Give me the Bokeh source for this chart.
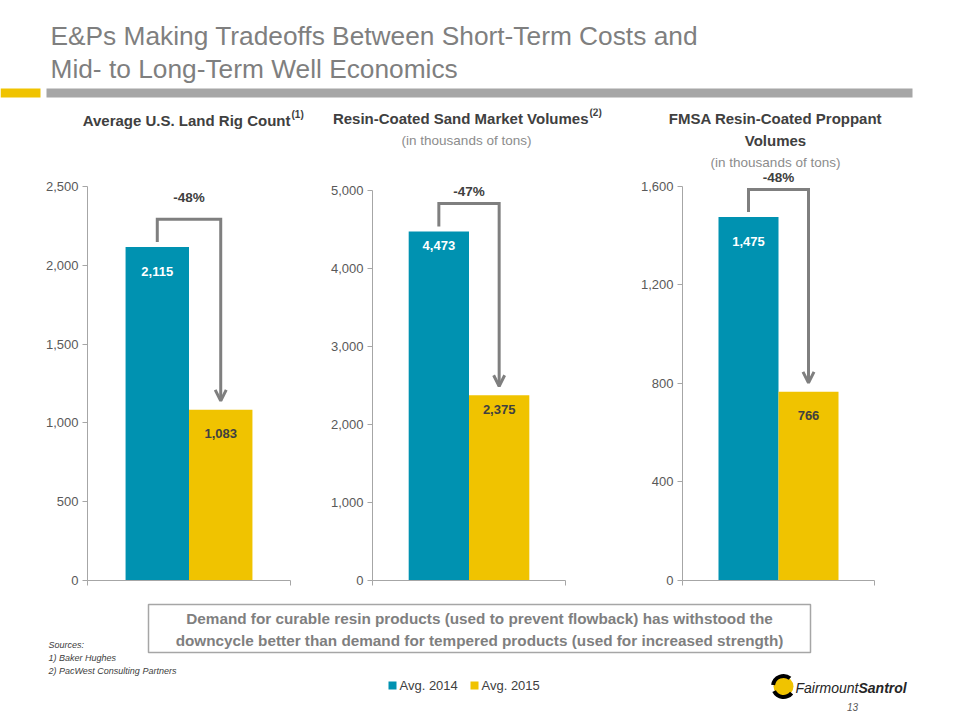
import numpy as np
from bokeh.plotting import figure
from bokeh.layouts import column, row
from bokeh.models import Range1d, FixedTicker, NumeralTickFormatter, Arrow, OpenHead
from bokeh.core.properties import value
from bokeh.embed import file_html
from bokeh.resources import INLINE

# ---------------- data ----------------
title_lines = ["E&Ps Making Tradeoffs Between Short-Term Costs and",
               "Mid- to Long-Term Well Economics"]
series_names = ["Avg. 2014", "Avg. 2015"]
chart1_title = "Average U.S. Land Rig Count"
chart1_note = "(1)"
chart2_title = "Resin-Coated Sand Market Volumes"
chart2_note = "(2)"
chart2_subtitle = "(in thousands of tons)"
chart3_title = ["FMSA Resin-Coated Proppant", "Volumes"]
chart3_subtitle = "(in thousands of tons)"
rig_count = [2115, 1083]
resin_sand_volumes = [4473, 2375]
fmsa_volumes = [1475, 766]
rig_ticks = [0, 500, 1000, 1500, 2000, 2500]
sand_ticks = [0, 1000, 2000, 3000, 4000, 5000]
fmsa_ticks = [0, 400, 800, 1200, 1600]
pct_changes = ["-48%", "-47%", "-48%"]
callout_lines = ["Demand for curable resin products (used to prevent flowback) has withstood the",
                 "downcycle better than demand for tempered products (used for increased strength)"]
source_lines = ["Sources:", "1) Baker Hughes", "2) PacWest Consulting Partners"]
logo_words = ["Fairmount", "Santrol"]
page_number = "13"

# ---------------- styles ----------------
TEAL = "#0092b1"
GOLD = "#f0c300"
DARK = "#404040"
MID = "#595959"
GRAY = "#7f7f7f"
RULE = "#a6a6a6"
SANS = value("Liberation Sans")

W = 960
ROW_TOP = 170
ROW_BOTTOM = 600


def canvas(w, h, y_top, y_bottom):
    p = figure(width=w, height=h, x_range=Range1d(0, w), y_range=Range1d(y_bottom, y_top),
               output_backend="svg", toolbar_location=None, min_border=0,
               x_axis_location=None, y_axis_location=None, outline_line_color=None)
    p.grid.visible = False
    p.background_fill_color = "white"
    p.border_fill_color = "white"
    return p


def txt(p, x, y, s, size, color, style="normal", align="left", baseline="middle"):
    p.text(x=[x], y=[y], text=[s], text_font=SANS, text_font_size=size, text_color=color,
           text_font_style=style, text_align=align, text_baseline=baseline)


# ---------------- header ----------------
hdr = canvas(W, 108, 0, 108)
txt(hdr, 50, 35, title_lines[0], "26.3px", GRAY)
txt(hdr, 50, 68, title_lines[1], "26.3px", GRAY)
hdr.quad(left=[0], right=[40], top=[88], bottom=[97], fill_color=GOLD, line_color=None)
hdr.quad(left=[46], right=[912], top=[88], bottom=[97], fill_color=RULE, line_color=None)

# ---------------- chart headings ----------------
hd = canvas(W, ROW_TOP - 108, 108, ROW_TOP)
txt(hd, 290, 120, chart1_title, "15px", DARK, style="bold", align="right")
txt(hd, 291, 114, chart1_note, "10px", DARK, style="bold")
txt(hd, 588, 118, chart2_title, "15px", DARK, style="bold", align="right")
txt(hd, 589, 112, chart2_note, "10px", DARK, style="bold")
txt(hd, 466, 140, chart2_subtitle, "13.5px", "#8c8c8c", align="center")
txt(hd, 775, 118, chart3_title[0], "15px", DARK, style="bold", align="center")
txt(hd, 775, 140, chart3_title[1], "15px", DARK, style="bold", align="center")
txt(hd, 775, 162, chart3_subtitle, "13.5px", "#8c8c8c", align="center")


# ---------------- bar charts ----------------
def bar_chart(values, ticks, pct, fig_x0, fig_w, frame_left, frame_right, zero_px, top_px,
              label_off, pct_off, pad=0.6):
    ymax = ticks[-1]
    ppu = (zero_px - top_px) / ymax
    y_end = (zero_px - ROW_TOP) / ppu
    bl = frame_left - fig_x0
    bw = frame_right - frame_left
    br = fig_w - bl - bw
    bb = ROW_BOTTOM - zero_px
    idx = np.arange(len(values))
    x0, x1 = -0.5 - pad, len(values) - 0.5 + pad
    p = figure(width=fig_w, height=ROW_BOTTOM - ROW_TOP, x_range=Range1d(x0, x1),
               y_range=Range1d(0, y_end), output_backend="svg", toolbar_location=None,
               min_border_left=bl, min_border_right=br, min_border_top=0, min_border_bottom=bb,
               outline_line_color=None)
    p.grid.visible = False
    p.vbar(x=idx, top=values, width=1.0, fill_color=[TEAL, GOLD], line_color=None)

    ya = p.yaxis[0]
    ya.ticker = FixedTicker(ticks=ticks)
    ya.bounds = (0, ymax)
    ya.formatter = NumeralTickFormatter(format="0,0")
    ya.axis_line_color = RULE
    ya.major_tick_line_color = RULE
    ya.major_tick_out = 5
    ya.major_tick_in = 0
    ya.minor_tick_line_color = None
    ya.major_label_text_font = "Liberation Sans"
    ya.major_label_text_font_size = "13px"
    ya.major_label_text_color = MID
    ya.major_label_standoff = 4

    xa = p.xaxis[0]
    xa.ticker = FixedTicker(ticks=[x0, x1])
    xa.major_label_overrides = {x0: "", x1: ""}
    xa.axis_line_color = RULE
    xa.major_tick_line_color = RULE
    xa.major_tick_out = 5
    xa.major_tick_in = 0
    xa.minor_tick_line_color = None
    xa.major_label_text_font_size = "1px"
    xa.major_label_standoff = 0

    labels = [f"{v:,}" for v in values]
    p.text(x=idx, y=values, text=labels, y_offset=label_off, text_align="center",
           text_baseline="middle", text_font=SANS, text_font_style="bold",
           text_font_size="13px", text_color=["white", DARK])

    start = values[0] + 5 / ppu
    top = values[0] + 28 / ppu
    tip = values[1] + 9 / ppu
    p.line(x=[idx[0], idx[0], idx[1], idx[1]], y=[start, top, top, tip],
           line_color=GRAY, line_width=3, line_join="miter")
    p.add_layout(Arrow(end=OpenHead(line_color=GRAY, line_width=3, size=11),
                       x_start=idx[1], y_start=top, x_end=idx[1], y_end=tip,
                       line_color=GRAY, line_alpha=0))
    p.text(x=[(idx[0] + idx[1]) / 2], y=[top], text=[pct], y_offset=-pct_off,
           text_align="center", text_baseline="middle", text_font=SANS,
           text_font_style="bold", text_font_size="13.5px", text_color=DARK)
    return p


c1 = bar_chart(rig_count, rig_ticks, pct_changes[0], 0, 300, 87, 290, 584, 186, 24, 22)
c2 = bar_chart(resin_sand_volumes, sand_ticks, pct_changes[1], 300, 300, 372, 565, 580, 190, 14, 12)
c3 = bar_chart(fmsa_volumes, fmsa_ticks, pct_changes[2], 600, 360, 682, 874, 587, 186, 24, 12)

# ---------------- footer ----------------
ft = canvas(W, 120, ROW_BOTTOM, 720)
ft.quad(left=[148], right=[810], top=[604], bottom=[652], fill_color=None,
        line_color=RULE, line_width=1.5)
txt(ft, 479, 618, callout_lines[0], "15.3px", GRAY, style="bold", align="center")
txt(ft, 479, 640, callout_lines[1], "15.3px", GRAY, style="bold", align="center")
for i, s in enumerate(source_lines):
    txt(ft, 48, 644 + 13 * i, s, "9px", DARK, style="italic")
# legend
ft.quad(left=[388, 470], right=[396, 478], top=[681, 681], bottom=[689, 689],
        fill_color=[TEAL, GOLD], line_color=None)
txt(ft, 399, 685, series_names[0], "13px", DARK)
txt(ft, 481, 685, series_names[1], "13px", DARK)
# logo
ft.circle(x=[783], y=[686], radius=10, fill_color=GOLD, line_color=None)
ft.annular_wedge(x=[783, 783], y=[686, 686], inner_radius=8.5, outer_radius=12.5,
                 start_angle=[0.9, 3.6], end_angle=[3.0, 5.6], direction="anticlock",
                 fill_color="black", line_color=None)
txt(ft, 858, 687, logo_words[0], "14px", "#262626", style="italic", align="right")
txt(ft, 858, 687, logo_words[1], "14px", "#262626", style="bold italic")
txt(ft, 852, 706, page_number, "10px", MID, style="italic", align="center")

layout = column(hdr, hd, row(c1, c2, c3), ft)
open("out.html", "w").write(file_html(layout, INLINE))
